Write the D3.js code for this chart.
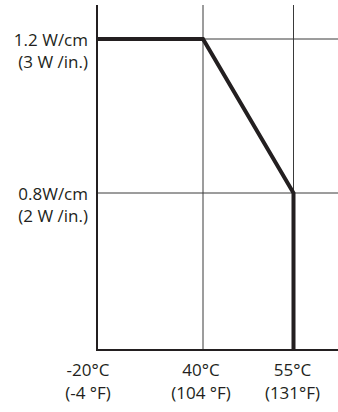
<!DOCTYPE html>
<html>
<head>
<meta charset="utf-8">
<script src="https://cdn.jsdelivr.net/npm/d3@7"></script>
<style>
  body { margin: 0; background: #fff; }
  text { font-family: "Open Sans", "Noto Sans", sans-serif; font-size: 17px; fill: #231f20; }
</style>
</head>
<body>
<svg id="chart" width="338" height="412"></svg>
<script>
"use strict";

// temperature break points (deg C) and their labels
var tempC = [-20, 40, 55];
var tempLabels = [["-20°C", "(-4 °F)"], ["40°C", "(104 °F)"], ["55°C", "(131°F)"]];

// power density break points (W/cm) and their labels
var powerTicks = [1.2, 0.8];
var powerLabels = [["1.2 W/cm", "(3 W /in.)"], ["0.8W/cm", "(2 W /in.)"]];

// derating curve
var curveTemp = [-20, 40, 55, 55];
var curvePower = [1.2, 1.2, 0.8, 0];

var Draw = (function() {
  var svg = d3.select("#chart");

  // the source chart is not to scale, so piecewise scales
  var x = d3.scaleLinear().domain([-20, 40, 55, 62.5]).range([97, 203, 293.5, 338]);
  var y = d3.scaleLinear().domain([0, 0.8, 1.2, 1.285]).range([350, 193, 39, 5]);

  // grid lines
  svg.append("g").selectAll("line").data(tempC.slice(1))
    .enter().append("line")
    .attr("x1", d => x(d)).attr("x2", d => x(d))
    .attr("y1", y(1.285)).attr("y2", y(0))
    .attr("stroke", "#3a3a3a").attr("stroke-width", 1);

  svg.append("g").selectAll("line").data(powerTicks)
    .enter().append("line")
    .attr("x1", x(-20)).attr("x2", x(62.5))
    .attr("y1", d => y(d)).attr("y2", d => y(d))
    .attr("stroke", "#3a3a3a").attr("stroke-width", 1);

  // axes
  svg.append("line")
    .attr("x1", x(-20)).attr("x2", x(-20))
    .attr("y1", y(1.285)).attr("y2", y(0) + 1)
    .attr("stroke", "#231f20").attr("stroke-width", 2);
  svg.append("line")
    .attr("x1", x(-20) - 1).attr("x2", x(62.5))
    .attr("y1", y(0)).attr("y2", y(0))
    .attr("stroke", "#231f20").attr("stroke-width", 2);

  // curve
  var pts = curveTemp.map((t, i) => [t, curvePower[i]]);
  var line = d3.line().x(d => x(d[0])).y(d => y(d[1]));
  svg.append("path")
    .attr("d", line(pts))
    .attr("fill", "none")
    .attr("stroke", "#231f20")
    .attr("stroke-width", 4)
    .attr("stroke-linejoin", "miter");

  // x labels, nudged a little left like the original
  var shift = [-9, -2, -1];
  var xl = svg.append("g").selectAll("text").data(tempC)
    .enter().append("text")
    .attr("text-anchor", "middle")
    .attr("transform", (d, i) => "translate(" + (x(d) + shift[i]) + ",0)");
  xl.append("tspan").attr("x", 0).attr("y", 376).text((d, i) => tempLabels[i][0]);
  xl.append("tspan").attr("x", 0).attr("y", 399).text((d, i) => tempLabels[i][1]);

  // y labels
  var yl = svg.append("g").selectAll("text").data(powerTicks)
    .enter().append("text")
    .attr("text-anchor", "end")
    .attr("transform", d => "translate(88," + y(d) + ")");
  yl.append("tspan").attr("x", 0).attr("y", 7).text((d, i) => powerLabels[i][0]);
  yl.append("tspan").attr("x", 0).attr("y", 29).text((d, i) => powerLabels[i][1]);
});

Draw();
</script>
</body>
</html>
